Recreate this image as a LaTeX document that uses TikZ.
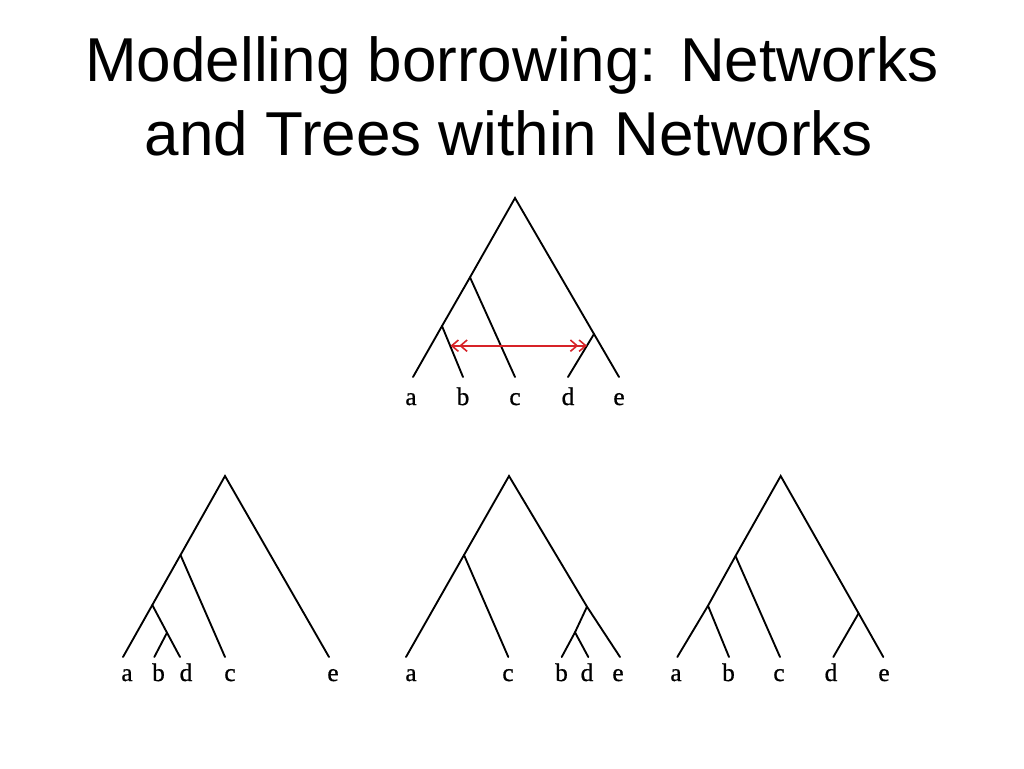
\documentclass[tikz,border=0pt]{standalone}
\usepackage{fontspec}
\setmainfont{Liberation Serif}
\newfontfamily\titlefont{Liberation Sans}
\newfontfamily\leaffont[FakeBold=0.8]{Liberation Serif}
\usetikzlibrary{arrows.meta}
\definecolor{borrowred}{RGB}{215,35,40}
\begin{document}
\begin{tikzpicture}[x=0.75pt,y=-0.75pt,
  branch/.style={line width=1.4pt, line cap=round},
  leaf/.style={anchor=base, inner sep=0pt, font=\leaffont\fontsize{19}{19}\selectfont},
  titletext/.style={anchor=base, inner sep=0pt, font=\titlefont\fontsize{46.5}{55}\selectfont},
  borrow/.style={draw=borrowred, line width=1.2pt, >={Straight Barb[length=5pt,width=8.5pt]}, <<->>}]
\useasboundingbox[fill=white] (0,0) rectangle (1024,768);

% title
\node[titletext] (t1) at (512,81.7) {Modelling borrowing: Networks};
\node[titletext] (t2) at (509,155) {and Trees within Networks};

% ---------- top network ----------
\coordinate (Tr) at (515,198);
\coordinate (Tabc) at (470,277.3);
\coordinate (Tab) at (442,326);
\coordinate (Tde) at (594,334);
\coordinate (Ta) at (413,377);
\coordinate (Tb) at (463,377);
\coordinate (Tc) at (515,377);
\coordinate (Td) at (568,377);
\coordinate (Te) at (619,377);
\draw[branch] (Ta) -- (Tab) -- (Tabc) -- (Tr) -- (Tde) -- (Te);
\draw[branch] (Tab) -- (Tb);
\draw[branch] (Tabc) -- (Tc);
\draw[branch] (Tde) -- (Td);
\coordinate (Bl) at (450.5,345.7);
\coordinate (Br) at (587,345.7);
\draw[borrow] (Bl) -- (Br);
\node[leaf] (Tla) at (411,405) {a};
\node[leaf] (Tlb) at (463,405) {b};
\node[leaf] (Tlc) at (515,405) {c};
\node[leaf] (Tld) at (568,405) {d};
\node[leaf] (Tle) at (619,405) {e};

% ---------- bottom tree 1 ----------
\coordinate (Ar) at (225,476);
\coordinate (Aabdc) at (180.5,555);
\coordinate (Aabd) at (152.3,605);
\coordinate (Abd) at (167,632.7);
\coordinate (Aa) at (123,657);
\coordinate (Ab) at (154.3,657);
\coordinate (Ad) at (180,657);
\coordinate (Ac) at (225,657);
\coordinate (Ae) at (329,657);
\draw[branch] (Aa) -- (Aabd) -- (Aabdc) -- (Ar) -- (Ae);
\draw[branch] (Aabd) -- (Abd) -- (Ad);
\draw[branch] (Abd) -- (Ab);
\draw[branch] (Aabdc) -- (Ac);
\node[leaf] (Ala) at (127,681) {a};
\node[leaf] (Alb) at (158.5,681) {b};
\node[leaf] (Ald) at (186,681) {d};
\node[leaf] (Alc) at (230,681) {c};
\node[leaf] (Ale) at (333,681) {e};

% ---------- bottom tree 2 ----------
\coordinate (Cr) at (509,476);
\coordinate (Cac) at (464,555);
\coordinate (Cbde) at (587,606.7);
\coordinate (Cbd) at (575,632.3);
\coordinate (Ca) at (406,657);
\coordinate (Cc) at (508.3,657);
\coordinate (Cb) at (561.7,657);
\coordinate (Cd) at (588.3,657);
\coordinate (Ce) at (620,657);
\draw[branch] (Ca) -- (Cac) -- (Cr) -- (Cbde) -- (Ce);
\draw[branch] (Cac) -- (Cc);
\draw[branch] (Cbde) -- (Cbd) -- (Cb);
\draw[branch] (Cbd) -- (Cd);
\node[leaf] (Cla) at (411,681) {a};
\node[leaf] (Clc) at (508,681) {c};
\node[leaf] (Clb) at (561.5,681) {b};
\node[leaf] (Cld) at (587,681) {d};
\node[leaf] (Cle) at (618,681) {e};

% ---------- bottom tree 3 ----------
\coordinate (Dr) at (780.7,476);
\coordinate (Dabc) at (735.5,556);
\coordinate (Dab) at (708,605.7);
\coordinate (Dde) at (858.6,613.3);
\coordinate (Da) at (677.3,657);
\coordinate (Db) at (729,657);
\coordinate (Dc) at (780,657);
\coordinate (Dd) at (833.3,657);
\coordinate (De) at (883.3,657);
\draw[branch] (Da) -- (Dab) -- (Dabc) -- (Dr) -- (Dde) -- (De);
\draw[branch] (Dab) -- (Db);
\draw[branch] (Dabc) -- (Dc);
\draw[branch] (Dde) -- (Dd);
\node[leaf] (Dla) at (676,681) {a};
\node[leaf] (Dlb) at (728.5,681) {b};
\node[leaf] (Dlc) at (779,681) {c};
\node[leaf] (Dld) at (831,681) {d};
\node[leaf] (Dle) at (884,681) {e};
\end{tikzpicture}
\end{document}
